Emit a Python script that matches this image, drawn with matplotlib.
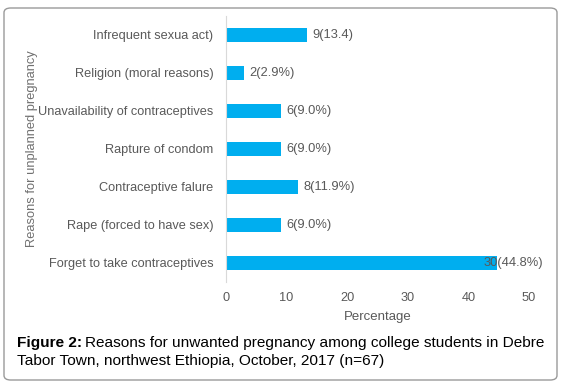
import matplotlib
matplotlib.use('agg')
import matplotlib.pyplot as plt
from matplotlib.patches import FancyBboxPatch

reasons = ["Forget to take contraceptives", "Rape (forced to have sex)", "Contraceptive falure",
           "Rapture of condom", "Unavailability of contraceptives", "Religion (moral reasons)",
           "Infrequent sexua act)"]
percent = [44.8, 9.0, 11.9, 9.0, 9.0, 2.9, 13.4]
value_labels = ["30(44.8%)", "6(9.0%)", "8(11.9%)", "6(9.0%)", "6(9.0%)", "2(2.9%)", "9(13.4)"]
xticks = [0, 10, 20, 30, 40, 50]

plt.rcParams['font.family'] = ['Liberation Sans', 'DejaVu Sans']
gray = '#595959'

fig = plt.figure(figsize=(5.63, 3.86), dpi=100)
box = FancyBboxPatch((4 / 563, 6 / 386), 553 / 563, 372 / 386,
                     boxstyle="round,pad=0,rounding_size=0.012",
                     transform=fig.transFigure, facecolor='none',
                     edgecolor='#9a9a9a', linewidth=1.0, zorder=10)
fig.patches.append(box)

ax = fig.add_axes([226 / 563, 1 - 282 / 386, 303 / 563, 266 / 386])
ax.barh(range(len(reasons)), percent, height=0.38, color='#00AEEF')
for i, (v, lab) in enumerate(zip(percent, value_labels)):
    # long bar: label sits partly over the bar end, as in the original
    ax.annotate(lab, (min(v, 41.6), i), xytext=(4, 0), textcoords='offset points',
                va='center', ha='left', fontsize=9.3, color=gray)

ax.set_xlim(0, 50)
ax.set_ylim(-0.5, len(reasons) - 0.5)
ax.set_xticks(xticks)
ax.set_yticks(range(len(reasons)))
ax.set_yticklabels(reasons)
ax.tick_params(axis='both', length=0, labelsize=9.2, colors=gray)
ax.tick_params(axis='x', pad=7)
ax.tick_params(axis='y', pad=9)
for s in ['top', 'right', 'bottom']:
    ax.spines[s].set_visible(False)
ax.spines['left'].set_color('#d9d9d9')
ax.set_xlabel('Percentage', fontsize=9.5, color=gray, labelpad=5)
ax.set_ylabel('Reasons for unplanned pregnancy', fontsize=9.3, color='#707070')
ax.yaxis.set_label_coords(-0.62, 0.5)

t = fig.text(17 / 563, 1 - 343 / 386, "Figure 2:", fontsize=11.1, fontweight='bold',
             va='center', ha='left', color='black')
fig.canvas.draw()
bb = t.get_window_extent()
fig.text(bb.x1 / fig.bbox.width + 3 / 563, 1 - 343 / 386,
         "Reasons for unwanted pregnancy among college students in Debre",
         fontsize=11.1, va='center', ha='left', color='black')
fig.text(17 / 563, 1 - 361 / 386, "Tabor Town, northwest Ethiopia, October, 2017 (n=67)",
         fontsize=11.1, va='center', ha='left', color='black')

fig.savefig('out.png', dpi=100)
